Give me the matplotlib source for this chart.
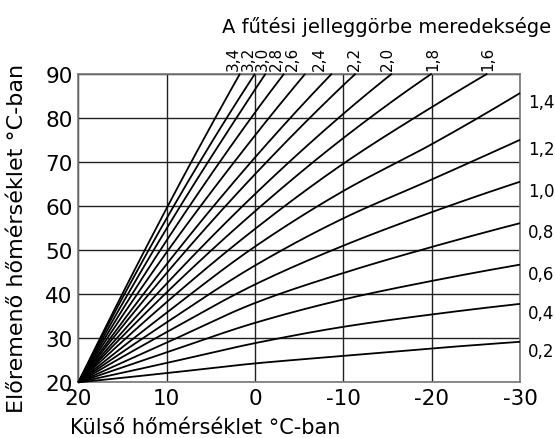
import numpy as np
import matplotlib
matplotlib.use("Agg")
import matplotlib.pyplot as plt

plt.rcParams["font.family"] = ["DejaVu Sans"]

# Outdoor temperatures at the vertical grid lines (°C)
outdoor_grid = [20, 10, 0, -10, -20, -30]
outdoor_ticks = ["20", "10", "0", "-10", "-20", "-30"]
flow_ticks = [20, 30, 40, 50, 60, 70, 80, 90]

# Flow temperature of each heating curve at the grid lines (°C)
flow_02 = [20.0, 22.1, 24.3, 26.0, 27.7, 29.2]
flow_04 = [20.0, 24.4, 28.9, 32.6, 35.4, 37.8]
flow_06 = [20.0, 26.8, 33.5, 38.8, 43.0, 46.7]
flow_08 = [20.0, 29.0, 38.0, 44.8, 50.7, 56.1]
flow_10 = [20.0, 31.4, 42.2, 51.0, 58.6, 65.5]
flow_12 = [20.0, 33.6, 46.5, 57.2, 66.0, 75.0]
flow_14 = [20.0, 35.8, 50.8, 63.4, 74.0, 85.6]
flow_16 = [20.0, 38.2, 54.8, 69.6, 82.4]
flow_18 = [20.0, 40.4, 58.8, 75.4]
flow_20 = [20.0, 42.4, 62.7, 80.9]
flow_22 = [20.0, 44.8, 67.2, 87.4]
flow_24 = [20.0, 46.8, 71.0]
flow_26 = [20.0, 49.5, 76.0]
flow_28 = [20.0, 52.2, 81.2]
flow_30 = [20.0, 54.9, 86.4]
flow_32 = [20.0, 57.2]
flow_34 = [20.0, 59.5]

# Outdoor temperature where a curve reaches 90 °C (None: runs to -30 °C)
top_02 = top_04 = top_06 = top_08 = top_10 = top_12 = top_14 = None
top_16 = -26.3
top_18 = -20.0
top_20 = -15.5
top_22 = -11.4
top_24 = -8.7
top_26 = -5.7
top_28 = -3.3
top_30 = -1.2
top_32 = 0.0
top_34 = 1.7

slope_names = ["0,2", "0,4", "0,6", "0,8", "1,0", "1,2", "1,4", "1,6", "1,8",
               "2,0", "2,2", "2,4", "2,6", "2,8", "3,0", "3,2", "3,4"]
flows = [flow_02, flow_04, flow_06, flow_08, flow_10, flow_12, flow_14, flow_16,
         flow_18, flow_20, flow_22, flow_24, flow_26, flow_28, flow_30, flow_32,
         flow_34]
tops = [top_02, top_04, top_06, top_08, top_10, top_12, top_14, top_16, top_18,
        top_20, top_22, top_24, top_26, top_28, top_30, top_32, top_34]

# x positions of the rotated slope labels along the top edge
top_label_x = [None] * 7 + [-26.4, -20.1, -15.0, -11.2, -7.3, -4.2, -2.4, -0.8, 0.8, 2.4]


def monotone_curve(xs, ys, n=160):
    """Smooth monotone cubic through the given points."""
    xs = np.asarray(xs, float)
    ys = np.asarray(ys, float)
    h = np.diff(xs)
    d = np.diff(ys) / h
    m = np.empty_like(ys)
    if len(xs) == 2:
        m[:] = d[0]
    else:
        for i in range(1, len(xs) - 1):
            if d[i - 1] * d[i] <= 0:
                m[i] = 0.0
            else:
                w1 = 2 * h[i] + h[i - 1]
                w2 = h[i] + 2 * h[i - 1]
                m[i] = (w1 + w2) / (w1 / d[i - 1] + w2 / d[i])
        m0 = ((2 * h[0] + h[1]) * d[0] - h[0] * d[1]) / (h[0] + h[1])
        m[0] = m0 if m0 * d[0] > 0 else 0.0
        mn = ((2 * h[-1] + h[-2]) * d[-1] - h[-1] * d[-2]) / (h[-1] + h[-2])
        m[-1] = mn if mn * d[-1] > 0 else 0.0
    out_x, out_y = [], []
    for i in range(len(xs) - 1):
        t = np.linspace(0, 1, n)
        h00 = 2 * t**3 - 3 * t**2 + 1
        h10 = t**3 - 2 * t**2 + t
        h01 = -2 * t**3 + 3 * t**2
        h11 = t**3 - t**2
        seg = h00 * ys[i] + h10 * h[i] * m[i] + h01 * ys[i + 1] + h11 * h[i] * m[i + 1]
        out_x.append(xs[i] + t * h[i])
        out_y.append(seg)
    return np.concatenate(out_x), np.concatenate(out_y)


fig = plt.figure(figsize=(5.55, 4.39), dpi=100)
ax = fig.add_axes([0.1411, 0.1267, 0.7959, 0.7032])
ax.set_xlim(20, -30)
ax.set_ylim(20, 90)

ax.set_xticks(outdoor_grid)
ax.set_xticklabels(outdoor_ticks)
ax.set_yticks(flow_ticks)
ax.tick_params(axis="both", length=0, labelsize=15.5, colors="black")
ax.tick_params(axis="x", pad=4)
ax.tick_params(axis="y", pad=4)
ax.grid(True, color="#222222", linewidth=1.0)
ax.set_axisbelow(True)
for sp in ax.spines.values():
    sp.set_color("#777777")
    sp.set_linewidth(1.2)

for name, flow, top, lx in zip(slope_names, flows, tops, top_label_x):
    xs = list(outdoor_grid[:len(flow)])
    ys = list(flow)
    if top is not None and top < xs[-1]:
        xs.append(top)
        ys.append(90.0)
    # work in distance from 20 °C so the abscissa increases
    dx = [20.0 - v for v in xs]
    px, py = monotone_curve(dx, ys)
    ax.plot(20.0 - px, py, color="black", linewidth=1.3, solid_capstyle="butt",
            clip_on=False, zorder=3)
    if top is None:
        ax.annotate(name, xy=(xs[-1], ys[-1]), xytext=(5.5, -6.5),
                    textcoords="offset points", ha="left", va="center",
                    fontsize=12, annotation_clip=False)
    else:
        ax.annotate(name, xy=(lx, 90), xytext=(0, 3),
                    textcoords="offset points", ha="center", va="bottom",
                    rotation=90, fontsize=11, annotation_clip=False)

fig.text(0.697, 0.925, "A fűtési jelleggörbe meredeksége", ha="center",
         va="baseline", fontsize=14)
fig.text(0.030, 0.458, "Előremenő hőmérséklet °C-ban", rotation=90,
         ha="center", va="center", fontsize=16)
fig.text(0.126, 0.012, "Külső hőmérséklet °C-ban", ha="left", va="baseline",
         fontsize=15)

fig.savefig("out.png", dpi=100)
